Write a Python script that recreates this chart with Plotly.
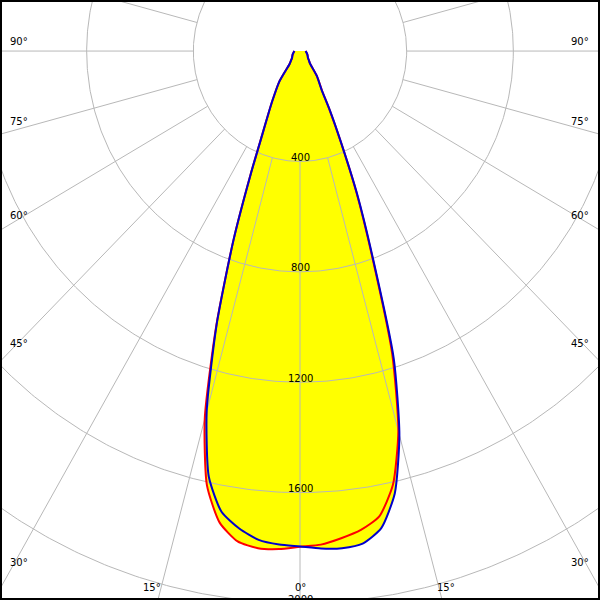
import numpy as np
import plotly.graph_objects as go

# ---- data (candela vs. angle from nadir, degrees) ----
ANGLES = [0, 2.5, 5, 7.5, 10, 12.5, 15, 17.5, 20, 22.5, 25, 27.5, 30, 35, 40, 45, 50, 60, 70, 80, 90]
C0 = [1796, 1790, 1772, 1750, 1712, 1610, 1425, 1150, 790, 550, 360, 240, 165, 110, 58, 47, 39, 33, 28, 24, 21]     # red, right half
C180 = [1796, 1806, 1808, 1792, 1735, 1612, 1380, 1045, 730, 485, 336, 258, 206, 136, 60, 47, 39, 33, 28, 24, 21]  # red, left half
C90 = [1797, 1804, 1808, 1800, 1755, 1642, 1440, 1170, 800, 557, 361, 245, 162, 110, 58, 47, 39, 33, 28, 24, 21]   # blue, right half
C270 = [1795, 1790, 1778, 1745, 1695, 1580, 1352, 1040, 730, 483, 336, 258, 206, 136, 60, 47, 39, 33, 28, 24, 21]  # blue, left half

GRID_RADII = [400, 800, 1200, 1600, 2000, 2400, 2800, 3200]
RADIAL_LABELS = ["400", "800", "1200", "1600", "2000"]
SPOKE_ANGLES = list(range(0, 360, 15))
SIDE_LABELS = ["90°", "75°", "60°", "45°", "30°"]
BOTTOM_LABELS = ["15°", "0°", "15°"]


def plane(left, right):
    a = np.array(ANGLES, dtype=float)
    th = np.concatenate([-a[::-1], a[1:]])
    r = np.concatenate([np.array(left, float)[::-1], np.array(right, float)[1:]])
    t = np.radians(th)
    return r * np.sin(t), -r * np.cos(t)


rx, ry = plane(C180, C0)
bx, by = plane(C270, C90)

SM = 0.6
fig = go.Figure()
YEL = "#ffff00"
fig.add_trace(go.Scatter(x=rx, y=ry, mode="lines", line=dict(width=0, color=YEL, shape="spline", smoothing=SM),
                         fill="toself", fillcolor=YEL, hoverinfo="skip"))
fig.add_trace(go.Scatter(x=bx, y=by, mode="lines", line=dict(width=0, color=YEL, shape="spline", smoothing=SM),
                         fill="toself", fillcolor=YEL, hoverinfo="skip"))

# grid circles
phi = np.linspace(0, 2 * np.pi, 721)
cx, cy = [], []
for r in GRID_RADII:
    cx += list(r * np.cos(phi)) + [None]
    cy += list(r * np.sin(phi)) + [None]
GRID = "#b8b8b8"
fig.add_trace(go.Scatter(x=cx, y=cy, mode="lines", line=dict(color=GRID, width=1), hoverinfo="skip"))

# spokes, starting at the first circle
sx, sy = [], []
r0, r1 = GRID_RADII[0], GRID_RADII[-1]
for a in SPOKE_ANGLES:
    t = np.radians(a)
    sx += [r0 * np.sin(t), r1 * np.sin(t), None]
    sy += [-r0 * np.cos(t), -r1 * np.cos(t), None]
fig.add_trace(go.Scatter(x=sx, y=sy, mode="lines", line=dict(color=GRID, width=1), hoverinfo="skip"))

fig.add_trace(go.Scatter(x=rx, y=ry, mode="lines", line=dict(color="#ff0000", width=2, shape="spline", smoothing=SM),
                         hoverinfo="skip"))
fig.add_trace(go.Scatter(x=bx, y=by, mode="lines", line=dict(color="#0000cc", width=2, shape="spline", smoothing=SM),
                         hoverinfo="skip"))

FONT = dict(family="DejaVu Sans", size=10, color="black")
ann = []
for i, lab in enumerate(RADIAL_LABELS):
    r = GRID_RADII[i]
    ann.append(dict(x=0, y=-r + 14, xref="x", yref="y", text=lab, showarrow=False,
                    xanchor="center", yanchor="middle", font=FONT))

side_y = [41.5, 121.5, 215, 343, 562]
for lab, py in zip(SIDE_LABELS, side_y):
    ann.append(dict(x=8 / 600, y=1 - py / 600, xref="paper", yref="paper", text=lab, showarrow=False,
                    xanchor="left", yanchor="middle", font=FONT))
    ann.append(dict(x=591 / 600, y=1 - py / 600, xref="paper", yref="paper", text=lab, showarrow=False,
                    xanchor="right", yanchor="middle", font=FONT))
for lab, px in zip(BOTTOM_LABELS, [152, 300, 446]):
    ann.append(dict(x=px / 600, y=1 - 587.5 / 600, xref="paper", yref="paper", text=lab, showarrow=False,
                    xanchor="center", yanchor="middle", font=FONT))

fig.update_layout(
    width=600, height=600, margin=dict(l=0, r=0, t=0, b=0),
    paper_bgcolor="white", plot_bgcolor="white", showlegend=False,
    xaxis=dict(range=[-1125, 1125], visible=False, fixedrange=True),
    yaxis=dict(range=[-1989, 185], visible=False, fixedrange=True),
    annotations=ann,
    shapes=[dict(type="rect", xref="paper", yref="paper", x0=0, y0=0, x1=1, y1=1,
                 line=dict(color="black", width=4))],
)

fig.write_html("out.html", config={"displayModeBar": False},
               post_script="document.body.style.margin='0';document.body.style.overflow='hidden';")
